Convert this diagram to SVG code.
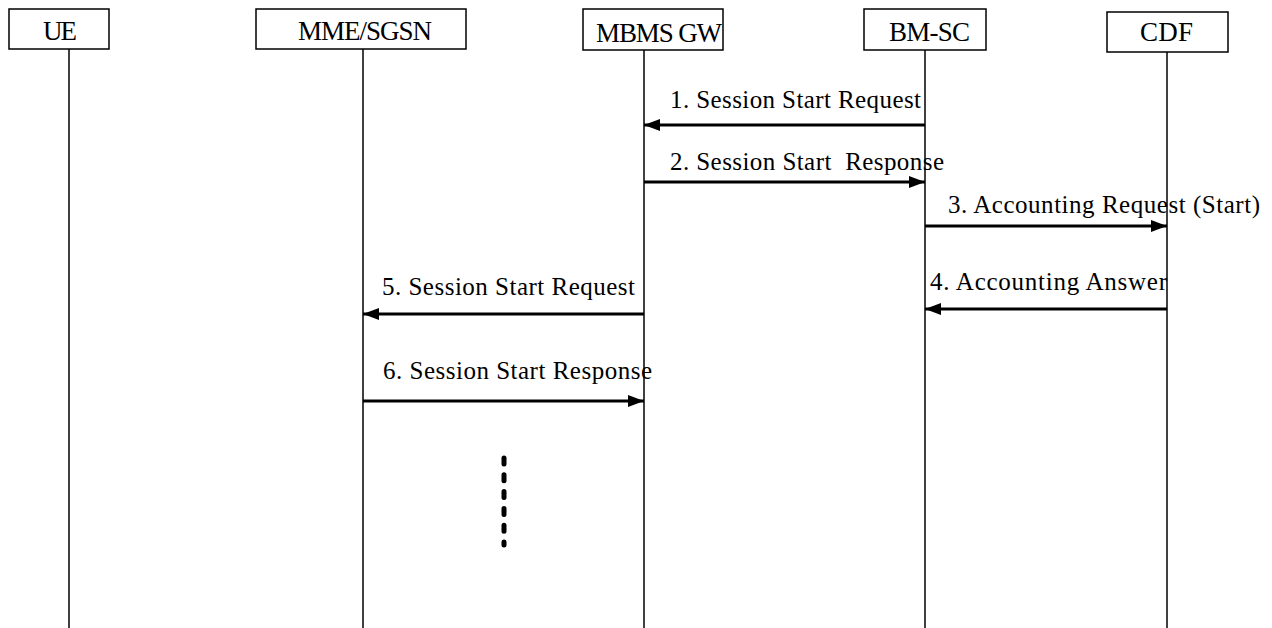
<svg xmlns="http://www.w3.org/2000/svg" width="1272" height="628" viewBox="0 0 1272 628">
<style>
.box{fill:#fff;stroke:#000;stroke-width:1.5}
.life{stroke:#000;stroke-width:1.5}
.t{font-family:"Liberation Serif","Times New Roman",serif;font-size:25px;fill:#000}
.bt{font-family:"Liberation Serif","Times New Roman",serif;font-size:27px;fill:#000}
.msg{stroke:#000;stroke-width:2.8;fill:none}
</style>
<defs>
<marker id="ah" viewBox="0 0 16 12" refX="16" refY="6" markerWidth="16" markerHeight="12" markerUnits="userSpaceOnUse" orient="auto">
<path d="M0,0 L16,6 L0,12 Z" fill="#000"/>
</marker>
</defs>
<rect width="1272" height="628" fill="#fff"/>
<g id="ue">
<line class="life" x1="69" y1="49" x2="69" y2="628"/>
<rect class="box" x="9" y="9" width="100" height="40"/>
<text class="bt" x="43" y="40" textLength="34">UE</text>
</g>
<g id="mme">
<line class="life" x1="363" y1="49" x2="363" y2="628"/>
<rect class="box" x="256" y="9" width="210" height="40"/>
<text class="bt" x="298" y="40" textLength="134">MME/SGSN</text>
</g>
<g id="mbmsgw">
<line class="life" x1="644" y1="50" x2="644" y2="628"/>
<rect class="box" x="583" y="9" width="140" height="41"/>
<text class="bt" x="596" y="42" textLength="126">MBMS GW</text>
</g>
<g id="bmsc">
<line class="life" x1="925" y1="50" x2="925" y2="628"/>
<rect class="box" x="864" y="9" width="122" height="41"/>
<text class="bt" x="889" y="41" textLength="81">BM-SC</text>
</g>
<g id="cdf">
<line class="life" x1="1167" y1="52" x2="1167" y2="628"/>
<rect class="box" x="1107" y="12" width="121" height="40"/>
<text class="bt" x="1140" y="41" textLength="53">CDF</text>
</g>
<g id="connectors">
<line class="msg" x1="925" y1="125" x2="644" y2="125" marker-end="url(#ah)"/>
<line class="msg" x1="644" y1="182" x2="925" y2="182" marker-end="url(#ah)"/>
<line class="msg" x1="925" y1="226" x2="1167" y2="226" marker-end="url(#ah)"/>
<line class="msg" x1="1167" y1="309" x2="925" y2="309" marker-end="url(#ah)"/>
<line class="msg" x1="644" y1="314" x2="363" y2="314" marker-end="url(#ah)"/>
<line class="msg" x1="363" y1="401" x2="644" y2="401" marker-end="url(#ah)"/>
<line x1="504" y1="458" x2="504" y2="545" stroke="#000" stroke-width="5" stroke-linecap="round" stroke-dasharray="6 10.8"/>
</g>
<g id="labels">
<text class="t" x="670" y="108" textLength="251">1. Session Start Request</text>
<text class="t" x="670" y="170" textLength="274" xml:space="preserve">2. Session Start  Response</text>
<text class="t" x="948" y="213" textLength="312">3. Accounting Request (Start)</text>
<text class="t" x="930" y="290" textLength="237">4. Accounting Answer</text>
<text class="t" x="382" y="295" textLength="253">5. Session Start Request</text>
<text class="t" x="383" y="379" textLength="269">6. Session Start Response</text>
</g>
</svg>
